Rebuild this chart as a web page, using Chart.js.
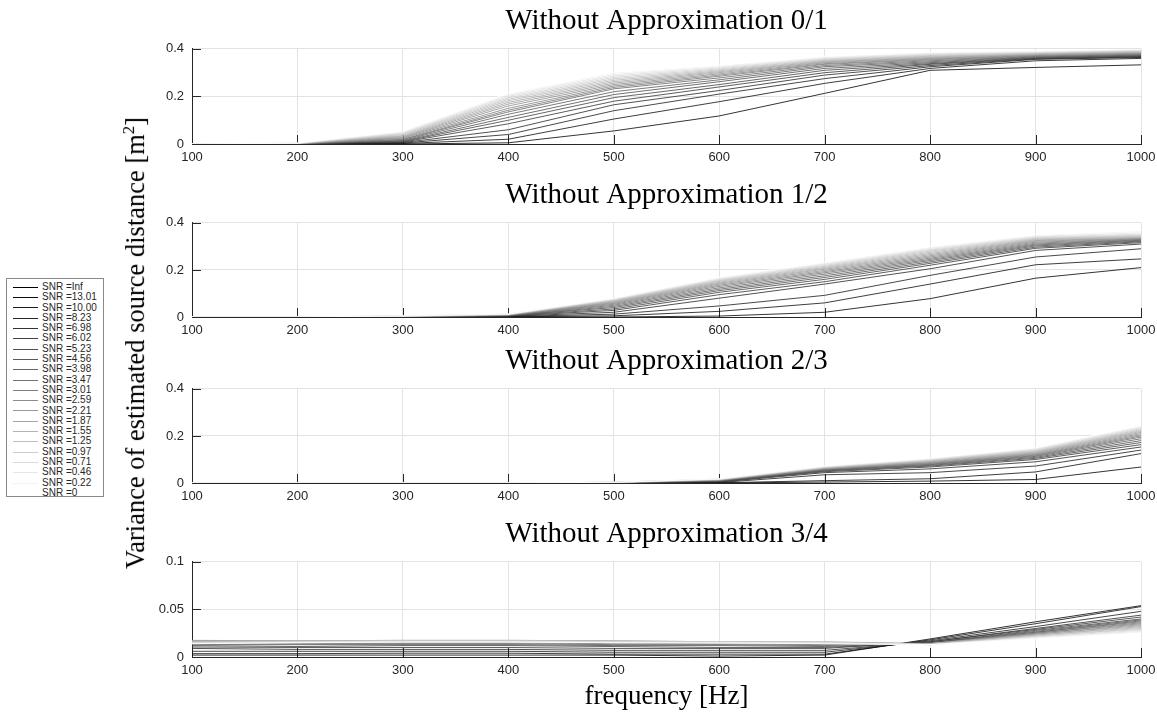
<!DOCTYPE html>
<html>
<head>
<meta charset="utf-8">
<script src="https://cdn.jsdelivr.net/npm/chart.js@4.4.1/dist/chart.umd.min.js"></script>
<style>
  body { margin: 0; background: #fff; width: 1157px; height: 712px; overflow: hidden; position: relative; }
  .plot { position: absolute; left: 150px; }
  #ylabel {
    position: absolute; left: 135px; top: 343px;
    transform: translate(-50%, -50%) rotate(-90deg);
    font: 26.5px 'Liberation Serif', 'Times New Roman', serif; color: #000; white-space: nowrap;
  }
  #ylabel sup { font-size: 17px; }
  #legend {
    position: absolute; left: 6px; top: 278px; width: 98px; height: 219px;
    border: 1px solid #8a8a8a; background: #fff; padding-top: 2px; box-sizing: border-box;
  }
  #legend .row {
    height: 10.3px; line-height: 10.3px; white-space: nowrap;
    font: 10px 'Liberation Sans', Arial, sans-serif; color: #262626;
  }
  #legend .swatch {
    display: inline-block; width: 25px; margin: 0 4px 0 6px; vertical-align: middle;
    border-top: 1px solid #000;
  }
</style>
</head>
<body>
<div class="plot" style="top:5px"><canvas id="c1" width="1007" height="163"></canvas></div>
<div class="plot" style="top:179px"><canvas id="c2" width="1007" height="162"></canvas></div>
<div class="plot" style="top:345px"><canvas id="c3" width="1007" height="162"></canvas></div>
<div class="plot" style="top:518px"><canvas id="c4" width="1007" height="195"></canvas></div>
<div id="ylabel">Variance of estimated source distance [m<sup>2</sup>]</div>
<div id="legend"></div>

<script>
// frequencies on the x axis
const freq = [100, 200, 300, 400, 500, 600, 700, 800, 900, 1000]
const snrLabels = ['Inf', '13.01', '10.00', '8.23', '6.98', '6.02', '5.23', '4.56', '3.98', '3.47',
  '3.01', '2.59', '2.21', '1.87', '1.55', '1.25', '0.97', '0.71', '0.46', '0.22', '0']
const titles = ['Without Approximation 0/1', 'Without Approximation 1/2', 'Without Approximation 2/3', 'Without Approximation 3/4']
const yTicksBig = [0, 0.2, 0.4]
const yTicksSmall = [0, 0.05, 0.1]

// one row per SNR, same order as snrLabels
const approx01 = [
  [0, 0, 0.000, 0.005, 0.055, 0.118, 0.213, 0.310, 0.322, 0.333],
  [0, 0, 0.002, 0.020, 0.105, 0.178, 0.255, 0.318, 0.350, 0.360],
  [0, 0, 0.004, 0.040, 0.140, 0.210, 0.275, 0.325, 0.356, 0.364],
  [0, 0, 0.006, 0.060, 0.165, 0.225, 0.290, 0.330, 0.358, 0.366],
  [0, 0, 0.008, 0.085, 0.180, 0.240, 0.300, 0.335, 0.360, 0.368],
  [0, 0, 0.010, 0.100, 0.195, 0.250, 0.310, 0.338, 0.362, 0.370],
  [0, 0, 0.012, 0.112, 0.208, 0.262, 0.318, 0.342, 0.364, 0.372],
  [0, 0, 0.015, 0.125, 0.220, 0.270, 0.325, 0.346, 0.366, 0.374],
  [0, 0, 0.018, 0.135, 0.232, 0.278, 0.330, 0.350, 0.368, 0.376],
  [0, 0.001, 0.020, 0.142, 0.238, 0.285, 0.335, 0.354, 0.370, 0.378],
  [0, 0.001, 0.024, 0.150, 0.244, 0.290, 0.338, 0.357, 0.372, 0.380],
  [0, 0.001, 0.027, 0.160, 0.250, 0.295, 0.342, 0.360, 0.374, 0.382],
  [0, 0.001, 0.030, 0.168, 0.256, 0.300, 0.345, 0.363, 0.376, 0.384],
  [0, 0.002, 0.033, 0.175, 0.262, 0.304, 0.348, 0.366, 0.378, 0.386],
  [0, 0.002, 0.036, 0.182, 0.268, 0.308, 0.351, 0.369, 0.380, 0.388],
  [0, 0.002, 0.040, 0.188, 0.274, 0.312, 0.354, 0.372, 0.382, 0.390],
  [0, 0.003, 0.043, 0.194, 0.280, 0.316, 0.357, 0.375, 0.384, 0.392],
  [0, 0.003, 0.046, 0.200, 0.286, 0.320, 0.360, 0.378, 0.386, 0.394],
  [0, 0.003, 0.049, 0.205, 0.292, 0.324, 0.363, 0.381, 0.388, 0.396],
  [0, 0.004, 0.052, 0.210, 0.298, 0.328, 0.366, 0.384, 0.390, 0.398],
  [0, 0.004, 0.055, 0.214, 0.302, 0.332, 0.369, 0.387, 0.392, 0.400]
]

const approx12 = [
  [0, 0, 0, 0.000, 0.000, 0.004, 0.020, 0.078, 0.165, 0.210],
  [0, 0, 0, 0.001, 0.005, 0.024, 0.060, 0.140, 0.222, 0.247],
  [0, 0, 0, 0.002, 0.012, 0.047, 0.092, 0.177, 0.255, 0.290],
  [0, 0, 0, 0.003, 0.020, 0.080, 0.140, 0.205, 0.283, 0.310],
  [0, 0, 0.001, 0.004, 0.028, 0.095, 0.150, 0.220, 0.292, 0.316],
  [0, 0, 0.001, 0.005, 0.034, 0.105, 0.160, 0.228, 0.297, 0.320],
  [0, 0, 0.001, 0.006, 0.040, 0.112, 0.168, 0.234, 0.302, 0.323],
  [0, 0, 0.001, 0.006, 0.045, 0.118, 0.175, 0.240, 0.306, 0.326],
  [0, 0, 0.002, 0.007, 0.050, 0.124, 0.182, 0.245, 0.310, 0.328],
  [0, 0, 0.002, 0.008, 0.054, 0.130, 0.188, 0.250, 0.314, 0.330],
  [0, 0, 0.002, 0.008, 0.058, 0.135, 0.193, 0.255, 0.318, 0.332],
  [0, 0, 0.002, 0.009, 0.061, 0.140, 0.198, 0.260, 0.322, 0.334],
  [0, 0, 0.003, 0.009, 0.064, 0.144, 0.203, 0.265, 0.325, 0.336],
  [0, 0, 0.003, 0.010, 0.067, 0.148, 0.207, 0.270, 0.328, 0.339],
  [0, 0, 0.003, 0.010, 0.069, 0.152, 0.211, 0.275, 0.331, 0.342],
  [0, 0, 0.003, 0.011, 0.071, 0.155, 0.215, 0.280, 0.334, 0.345],
  [0, 0, 0.004, 0.011, 0.073, 0.158, 0.219, 0.284, 0.337, 0.348],
  [0, 0, 0.004, 0.012, 0.075, 0.161, 0.223, 0.288, 0.340, 0.352],
  [0, 0, 0.004, 0.012, 0.077, 0.164, 0.226, 0.292, 0.343, 0.357],
  [0, 0, 0.005, 0.013, 0.079, 0.167, 0.230, 0.296, 0.347, 0.363],
  [0, 0, 0.005, 0.013, 0.080, 0.170, 0.233, 0.300, 0.350, 0.370]
]

const approx23 = [
  [0, 0, 0, 0, 0, 0.000, 0.004, 0.008, 0.015, 0.068],
  [0, 0, 0, 0, 0, 0.001, 0.010, 0.018, 0.047, 0.125],
  [0, 0, 0, 0, 0, 0.002, 0.035, 0.044, 0.072, 0.140],
  [0, 0, 0, 0, 0.001, 0.004, 0.044, 0.060, 0.090, 0.153],
  [0, 0, 0, 0, 0.001, 0.006, 0.048, 0.068, 0.100, 0.163],
  [0, 0, 0, 0, 0.001, 0.007, 0.051, 0.072, 0.105, 0.172],
  [0, 0, 0, 0, 0.001, 0.008, 0.053, 0.075, 0.109, 0.180],
  [0, 0, 0, 0, 0.001, 0.009, 0.055, 0.078, 0.113, 0.188],
  [0, 0, 0, 0, 0.002, 0.010, 0.056, 0.080, 0.116, 0.195],
  [0, 0, 0, 0, 0.002, 0.011, 0.058, 0.083, 0.119, 0.200],
  [0, 0, 0, 0, 0.002, 0.012, 0.059, 0.085, 0.122, 0.205],
  [0, 0, 0, 0, 0.002, 0.012, 0.061, 0.087, 0.125, 0.210],
  [0, 0, 0, 0, 0.002, 0.013, 0.062, 0.090, 0.128, 0.215],
  [0, 0, 0, 0, 0.002, 0.014, 0.063, 0.092, 0.131, 0.219],
  [0, 0, 0, 0, 0.003, 0.014, 0.065, 0.094, 0.134, 0.223],
  [0, 0, 0, 0, 0.003, 0.015, 0.066, 0.096, 0.137, 0.227],
  [0, 0, 0, 0, 0.003, 0.016, 0.067, 0.098, 0.140, 0.231],
  [0, 0, 0, 0, 0.003, 0.016, 0.068, 0.100, 0.143, 0.235],
  [0, 0, 0, 0, 0.003, 0.017, 0.070, 0.102, 0.146, 0.239],
  [0, 0, 0, 0, 0.003, 0.017, 0.071, 0.104, 0.148, 0.242],
  [0, 0, 0, 0, 0.003, 0.018, 0.072, 0.106, 0.150, 0.245]
]

const approx34 = [
  [0.002, 0.002, 0.002, 0.002, 0.002, 0.001, 0.002, 0.019, 0.037, 0.054],
  [0.0035, 0.0035, 0.004, 0.004, 0.003, 0.003, 0.003, 0.018, 0.035, 0.053],
  [0.006, 0.006, 0.006, 0.006, 0.005, 0.005, 0.005, 0.017, 0.032, 0.048],
  [0.009, 0.008, 0.008, 0.008, 0.007, 0.007, 0.007, 0.016, 0.030, 0.044],
  [0.0105, 0.010, 0.010, 0.010, 0.009, 0.009, 0.009, 0.016, 0.029, 0.042],
  [0.012, 0.011, 0.012, 0.012, 0.011, 0.010, 0.010, 0.015, 0.028, 0.040],
  [0.013, 0.013, 0.013, 0.013, 0.012, 0.012, 0.011, 0.015, 0.027, 0.039],
  [0.014, 0.014, 0.014, 0.014, 0.013, 0.013, 0.012, 0.015, 0.026, 0.038],
  [0.015, 0.015, 0.015, 0.015, 0.014, 0.014, 0.013, 0.014, 0.026, 0.037],
  [0.016, 0.016, 0.016, 0.016, 0.015, 0.014, 0.014, 0.014, 0.025, 0.036],
  [0.0165, 0.016, 0.0165, 0.0165, 0.016, 0.015, 0.014, 0.014, 0.025, 0.035],
  [0.017, 0.0165, 0.017, 0.017, 0.016, 0.015, 0.015, 0.014, 0.024, 0.034],
  [0.0175, 0.017, 0.017, 0.017, 0.0165, 0.016, 0.015, 0.014, 0.024, 0.033],
  [0.017, 0.017, 0.0175, 0.0175, 0.017, 0.016, 0.015, 0.014, 0.023, 0.032],
  [0.0165, 0.017, 0.0175, 0.0175, 0.017, 0.016, 0.016, 0.014, 0.023, 0.031],
  [0.016, 0.0165, 0.017, 0.017, 0.0165, 0.016, 0.016, 0.013, 0.022, 0.030],
  [0.0155, 0.016, 0.017, 0.017, 0.016, 0.016, 0.015, 0.013, 0.022, 0.029],
  [0.015, 0.016, 0.0165, 0.0165, 0.016, 0.0155, 0.015, 0.013, 0.021, 0.028],
  [0.0145, 0.0155, 0.016, 0.016, 0.0155, 0.015, 0.015, 0.013, 0.020, 0.027],
  [0.014, 0.015, 0.016, 0.016, 0.015, 0.015, 0.014, 0.013, 0.020, 0.026],
  [0.014, 0.015, 0.0155, 0.0155, 0.015, 0.0145, 0.014, 0.013, 0.019, 0.025]
]

// black for SNR=Inf fading to white for SNR=0
const grays = snrLabels.map((s, i) => {
  const g = Math.round(255 * i / (snrLabels.length - 1))
  return 'rgb(' + g + ',' + g + ',' + g + ')'
})

const axisColor = '#262626'
const gridColor = '#e3e3e3'
const serif = "'Liberation Serif', 'Times New Roman', serif"

// matlab style ticks pointing into the plot
const inwardTicks = {
  id: 'inwardTicks',
  beforeDatasetsDraw(chart) {
    const { ctx, chartArea, scales } = chart
    ctx.save()
    ctx.strokeStyle = axisColor
    ctx.lineWidth = 1
    ctx.beginPath()
    scales.x.ticks.forEach(t => {
      const px = Math.round(scales.x.getPixelForValue(t.value)) + 0.5
      ctx.moveTo(px, chartArea.bottom)
      ctx.lineTo(px, chartArea.bottom - 9)
    })
    scales.y.ticks.forEach(t => {
      const py = Math.round(scales.y.getPixelForValue(t.value)) + 0.5
      ctx.moveTo(chartArea.left, py)
      ctx.lineTo(chartArea.left + 9, py)
    })
    ctx.stroke()
    ctx.restore()
  }
}

function makePlot(id, title, rows, yTicks, last) {
  new Chart(document.getElementById(id), {
    type: 'line',
    data: {
      datasets: rows.map((row, i) => ({
        label: 'SNR =' + snrLabels[i],
        data: row.map((v, j) => ({ x: freq[j], y: v })),
        borderColor: grays[i],
        borderWidth: 0.8,
        pointRadius: 0,
        tension: 0,
        fill: false,
        order: rows.length - i
      }))
    },
    options: {
      responsive: false,
      animation: false,
      devicePixelRatio: 1,
      layout: { padding: { left: 0, right: 16, top: 0, bottom: 0 } },
      plugins: {
        legend: { display: false },
        tooltip: { enabled: false },
        title: {
          display: true,
          fullSize: false,
          text: title,
          color: '#000',
          font: { family: serif, size: 29, weight: 'normal', lineHeight: 1.1 },
          padding: { top: 0, bottom: 12 }
        }
      },
      scales: {
        x: {
          type: 'linear',
          min: freq[0],
          max: freq[freq.length - 1],
          afterBuildTicks: s => { s.ticks = freq.map(v => ({ value: v })) },
          afterFit: s => {
            s.height = last ? 56 : 24
            s.paddingLeft = 0
            s.paddingRight = 0
          },
          ticks: { color: axisColor, font: { family: "'Liberation Sans', Arial", size: 13 }, padding: 6, maxRotation: 0, callback: v => String(v) },
          grid: { color: gridColor, drawTicks: false },
          border: { color: axisColor, width: 1 },
          title: {
            display: last,
            text: 'frequency [Hz]',
            color: '#000',
            font: { family: serif, size: 27, weight: 'normal', lineHeight: 1.1 },
            padding: { top: 0, bottom: 1 }
          }
        },
        y: {
          min: yTicks[0],
          max: yTicks[yTicks.length - 1],
          afterBuildTicks: s => { s.ticks = yTicks.map(v => ({ value: v })) },
          afterFit: s => {
            s.width = 42
            s.paddingTop = 0
            s.paddingBottom = 0
          },
          ticks: { color: axisColor, font: { family: "'Liberation Sans', Arial", size: 13 }, padding: 8, callback: v => String(v) },
          grid: { color: gridColor, drawTicks: false },
          border: { color: axisColor, width: 1 }
        }
      }
    },
    plugins: [inwardTicks]
  })
}

makePlot('c1', titles[0], approx01, yTicksBig, false)
makePlot('c2', titles[1], approx12, yTicksBig, false)
makePlot('c3', titles[2], approx23, yTicksBig, false)
makePlot('c4', titles[3], approx34, yTicksSmall, true)

// legend box on the left
const legendBox = document.getElementById('legend')
snrLabels.forEach((s, i) => {
  const row = document.createElement('div')
  row.className = 'row'
  row.innerHTML = '<span class="swatch" style="border-top-color:' + grays[i] + '"></span>SNR =' + s
  legendBox.appendChild(row)
})
</script>
</body>
</html>
